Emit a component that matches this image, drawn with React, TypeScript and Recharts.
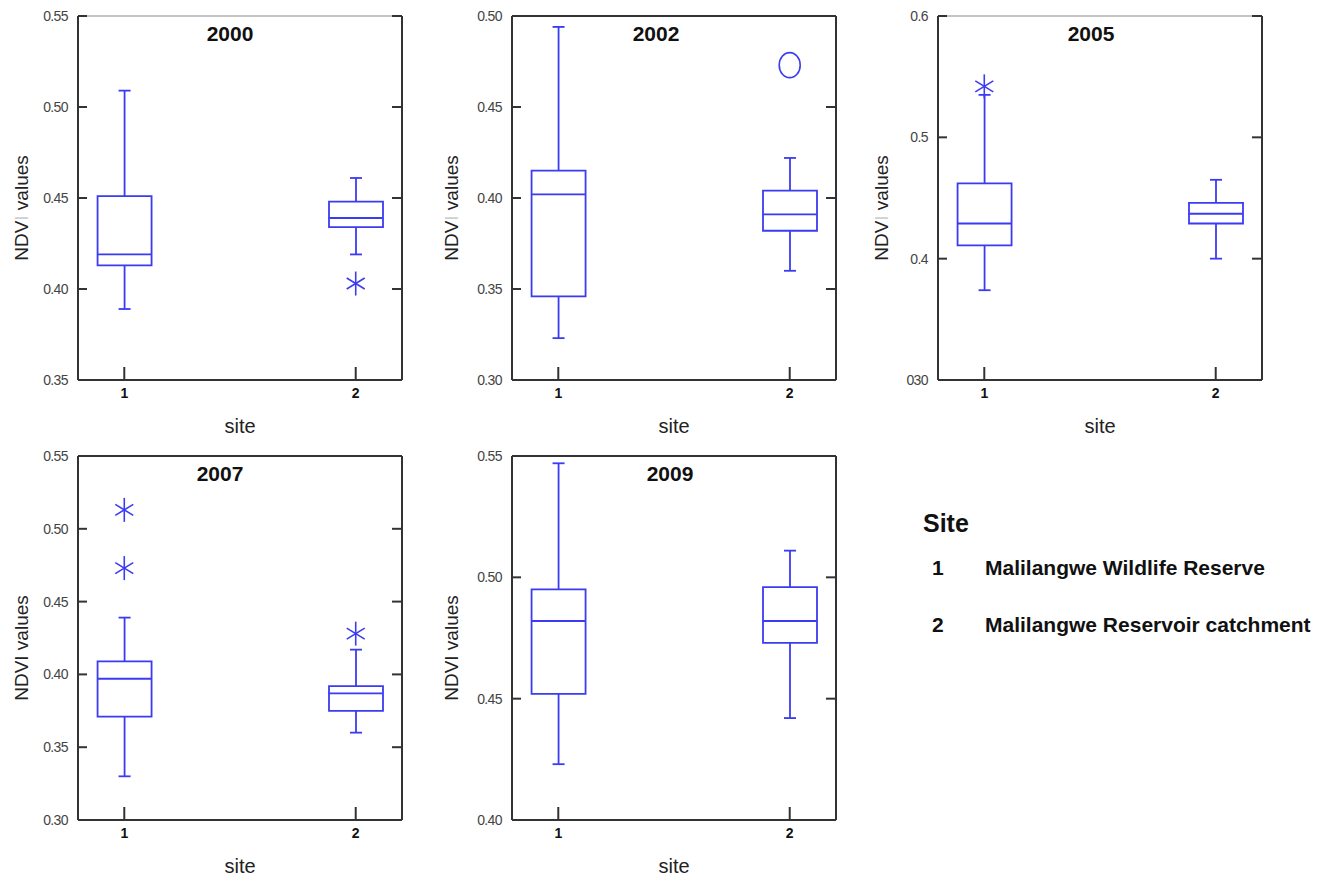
import React from 'react';
import { ComposedChart, Bar, Scatter, XAxis, YAxis, Label } from 'recharts';

const years = ['2000', '2002', '2005', '2007', '2009'];
const sites = [1, 2];

// one pair [site 1, site 2] per year
const minValues = [[0.389, 0.419], [0.323, 0.36], [0.374, 0.4], [0.33, 0.36], [0.423, 0.442]];
const q1Values = [[0.413, 0.434], [0.346, 0.382], [0.411, 0.429], [0.371, 0.375], [0.452, 0.473]];
const medianValues = [[0.419, 0.439], [0.402, 0.391], [0.429, 0.437], [0.397, 0.387], [0.482, 0.482]];
const q3Values = [[0.451, 0.448], [0.415, 0.404], [0.462, 0.446], [0.409, 0.392], [0.495, 0.496]];
const maxValues = [[0.509, 0.461], [0.494, 0.422], [0.535, 0.465], [0.439, 0.417], [0.547, 0.511]];

const outlierSites = [[2], [2], [1], [1, 1, 2], []];
const outlierValues = [[0.403], [0.473], [0.542], [0.513, 0.473, 0.428], []];
const outlierMarks = [['star'], ['circle'], ['star'], ['star', 'star', 'star'], []];

const yDomains = [[0.35, 0.55], [0.3, 0.5], [0.3, 0.6], [0.3, 0.55], [0.4, 0.55]];
const yTicks = [
  [0.35, 0.4, 0.45, 0.5, 0.55],
  [0.3, 0.35, 0.4, 0.45, 0.5],
  [0.3, 0.4, 0.5, 0.6],
  [0.3, 0.35, 0.4, 0.45, 0.5, 0.55],
  [0.4, 0.45, 0.5, 0.55],
];
const yTickLabels = [
  ['0.35', '0.40', '0.45', '0.50', '0.55'],
  ['0.30', '0.35', '0.40', '0.45', '0.50'],
  ['030', '0.4', '0.5', '0.6'],
  ['0.30', '0.35', '0.40', '0.45', '0.50', '0.55'],
  ['0.40', '0.45', '0.50', '0.55'],
];

const legendItems = ['Malilangwe Wildlife Reserve', 'Malilangwe Reservoir catchment'];

const BLUE = '#3b3bf2';
const AXIS = '#333';
const FONT = '"Liberation Sans", Arial, sans-serif';

const layout = [
  { left: 0, top: 0, axisW: 78, titleShift: -10, topColor: '#c4c4c4', faintI: true },
  { left: 430, top: 0, axisW: 82, titleShift: -18, topColor: AXIS, faintI: true },
  { left: 860, top: 0, axisW: 78, titleShift: -9, topColor: '#c4c4c4', faintI: true },
  { left: 0, top: 440, axisW: 78, titleShift: -20, topColor: AXIS, faintI: false },
  { left: 430, top: 440, axisW: 82, titleShift: -4, topColor: AXIS, faintI: false },
];

const PLOT_W = 324;
const X_DOMAIN = [0.8, 2.2];

function Whisker(props: any, top: boolean) {
  const { x, y, width, height } = props;
  const cx = x + width / 2;
  const capY = top ? y : y + height;
  return (
    <g>
      <line x1={cx} x2={cx} y1={y} y2={y + height} stroke={BLUE} strokeWidth={1.8} />
      <line x1={x} x2={x + width} y1={capY} y2={capY} stroke={BLUE} strokeWidth={1.8} />
    </g>
  );
}

function MedianMark(props: any) {
  const { cx, cy } = props;
  return <line x1={cx - 27} x2={cx + 27} y1={cy} y2={cy} stroke={BLUE} strokeWidth={1.8} />;
}

function OutlierMark(props: any) {
  const { cx, cy, payload } = props;
  if (payload.mark === 'circle') {
    return <ellipse cx={cx} cy={cy} rx={10.5} ry={12.5} fill="none" stroke={BLUE} strokeWidth={1.6} />;
  }
  return (
    <g stroke={BLUE} strokeWidth={1.6}>
      <line x1={cx} x2={cx} y1={cy - 12} y2={cy + 12} />
      <line x1={cx - 9} x2={cx + 9} y1={cy - 5.5} y2={cy + 5.5} />
      <line x1={cx - 9} x2={cx + 9} y1={cy + 5.5} y2={cy - 5.5} />
    </g>
  );
}

// ticks drawn inward from the frame
function LeftTick(props: any, fmt: (v: number) => string) {
  const { x, y, payload } = props;
  const axisX = x + 10;
  return (
    <g>
      <line x1={axisX} x2={axisX + 9} y1={y} y2={y} stroke={AXIS} strokeWidth={2} />
      <text x={x} y={y} textAnchor="end" dominantBaseline="central" fontSize={14} letterSpacing={-0.6} fontFamily={FONT} fill="#444">
        {fmt(payload.value)}
      </text>
    </g>
  );
}

function RightTick(props: any) {
  const { x, y } = props;
  return <line x1={x - 10} x2={x} y1={y} y2={y} stroke={AXIS} strokeWidth={2} />;
}

function BottomTick(props: any) {
  const { x, y, payload } = props;
  return (
    <g>
      <line x1={x} x2={x} y1={y - 13} y2={y} stroke={AXIS} strokeWidth={2} />
      <text x={x} y={y + 18} textAnchor="middle" fontSize={14} fontWeight="bold" fontFamily={FONT} fill="#111">
        {payload.value}
      </text>
    </g>
  );
}

function Panel({ index }: { index: number }) {
  const cfg = layout[index];
  const data = sites.map((s, i) => ({
    site: s,
    box: [q1Values[index][i], q3Values[index][i]],
    upper: [q3Values[index][i], maxValues[index][i]],
    lower: [minValues[index][i], q1Values[index][i]],
  }));
  const medians = sites.map((s, i) => ({ site: s, value: medianValues[index][i] }));
  const outliers = outlierSites[index].map((s, i) => ({
    site: s,
    value: outlierValues[index][i],
    mark: outlierMarks[index][i],
  }));
  const labels = yTickLabels[index];
  const ticks = yTicks[index];
  const fmt = (v: number) => labels[ticks.indexOf(v)] ?? String(v);

  return (
    <div style={{ position: 'absolute', left: cfg.left, top: cfg.top }}>
      <ComposedChart
        width={430}
        height={440}
        data={data}
        margin={{ top: 15, right: 430 - cfg.axisW - PLOT_W - 1, bottom: 0, left: 0 }}
      >
        <XAxis
          xAxisId="main"
          dataKey="site"
          type="number"
          domain={X_DOMAIN}
          ticks={[1, 2]}
          allowDataOverflow
          height={60}
          stroke={AXIS}
          strokeWidth={2}
          tickSize={0}
          tickMargin={0}
          tickLine={false}
          tick={BottomTick}
        >
          <Label
            content={(p: any) => {
              const vb = p.viewBox;
              return (
                <text x={vb.x + vb.width / 2} y={vb.y + 53} textAnchor="middle" fontSize={20} fontFamily={FONT} fill="#222">
                  site
                </text>
              );
            }}
          />
        </XAxis>
        <XAxis xAxisId="up" dataKey="site" type="number" domain={X_DOMAIN} ticks={[1, 2]} allowDataOverflow height={0} hide />
        <XAxis xAxisId="low" dataKey="site" type="number" domain={X_DOMAIN} ticks={[1, 2]} allowDataOverflow height={0} hide />
        <XAxis
          xAxisId="top"
          orientation="top"
          type="number"
          domain={X_DOMAIN}
          ticks={[1, 2]}
          allowDataOverflow
          height={1}
          tick={false}
          tickLine={false}
          stroke={cfg.topColor}
          strokeWidth={2}
        >
          <Label
            content={(p: any) => {
              const vb = p.viewBox;
              return (
                <text
                  x={vb.x + vb.width / 2 + cfg.titleShift}
                  y={vb.y + vb.height + 25}
                  textAnchor="middle"
                  fontSize={21}
                  fontWeight="bold"
                  fontFamily={FONT}
                  fill="#111"
                >
                  {years[index]}
                </text>
              );
            }}
          />
        </XAxis>
        <YAxis
          type="number"
          domain={yDomains[index]}
          ticks={ticks}
          allowDataOverflow
          width={cfg.axisW}
          stroke={AXIS}
          strokeWidth={2}
          tickSize={0}
          tickMargin={10}
          tickLine={false}
          tick={(p: any) => LeftTick(p, fmt)}
        >
          <Label
            content={(p: any) => {
              const vb = p.viewBox;
              const lx = vb.x + 21;
              const ly = vb.y + vb.height / 2 + 10;
              return (
                <text
                  x={lx}
                  y={ly}
                  transform={`rotate(-90, ${lx}, ${ly})`}
                  textAnchor="middle"
                  dominantBaseline="central"
                  fontSize={19}
                  fontFamily={FONT}
                  fill="#222"
                >
                  NDV
                  <tspan fill={cfg.faintI ? '#cfcfcf' : '#222'}>I</tspan> values
                </text>
              );
            }}
          />
        </YAxis>
        <YAxis
          yAxisId="right"
          orientation="right"
          type="number"
          domain={yDomains[index]}
          ticks={ticks}
          allowDataOverflow
          width={1}
          stroke={AXIS}
          strokeWidth={2}
          tickSize={0}
          tickMargin={0}
          tickLine={false}
          tick={RightTick}
        />
        <Bar
          xAxisId="up"
          dataKey="upper"
          barSize={12}
          isAnimationActive={false}
          shape={(p: any) => Whisker(p, true)}
        />
        <Bar
          xAxisId="low"
          dataKey="lower"
          barSize={12}
          isAnimationActive={false}
          shape={(p: any) => Whisker(p, false)}
        />
        <Bar
          xAxisId="main"
          dataKey="box"
          barSize={54}
          fill="none"
          stroke={BLUE}
          strokeWidth={1.8}
          isAnimationActive={false}
        />
        <Scatter
          xAxisId="main"
          data={medians}
          dataKey="value"
          isAnimationActive={false}
          shape={MedianMark}
        />
        <Scatter
          xAxisId="main"
          data={outliers}
          dataKey="value"
          isAnimationActive={false}
          shape={OutlierMark}
        />
      </ComposedChart>
    </div>
  );
}

function SiteLegend() {
  return (
    <svg width={420} height={160} style={{ position: 'absolute', left: 906, top: 490 }}>
      <text x={17} y={42} fontSize={25} fontWeight="bold" fontFamily={FONT} fill="#111">
        Site
      </text>
      {legendItems.map((name, i) => (
        <g key={name} fontSize={21} fontWeight="bold" fontFamily={FONT} fill="#111">
          <text x={26} y={85 + i * 57}>{i + 1}</text>
          <text x={79} y={85 + i * 57}>{name}</text>
        </g>
      ))}
    </svg>
  );
}

export default function App() {
  return (
    <div style={{ position: 'absolute', left: 0, top: 0, width: 1326, height: 878, background: '#fff', overflow: 'hidden' }}>
      {years.map((y, i) => (
        <Panel key={y} index={i} />
      ))}
      <SiteLegend />
    </div>
  );
}
